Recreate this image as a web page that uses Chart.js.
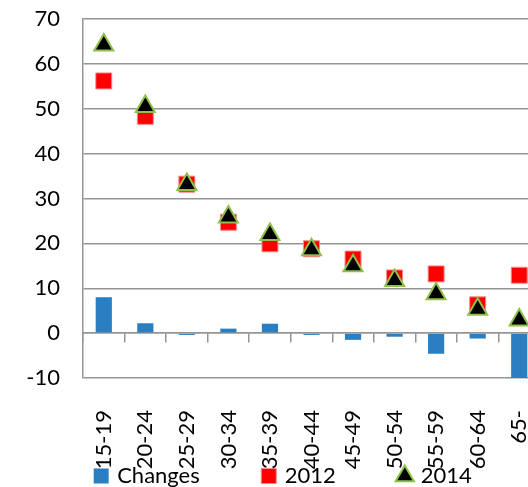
<!DOCTYPE html>
<html>
<head>
<meta charset="utf-8">
<title>Changes by age group</title>
<script src="https://cdn.jsdelivr.net/npm/chart.js@4.4.1/dist/chart.umd.min.js"></script>
<style>
    html, body { margin: 0; padding: 0; background: #fff; overflow: hidden; }
    #wrap { width: 582px; height: 487px; }
</style>
</head>
<body>
<div id="wrap"><canvas id="ageChart" width="582" height="487"></canvas></div>
<script>
// Dados
const ageGroups = ['15-19', '20-24', '25-29', '30-34', '35-39', '40-44', '45-49', '50-54', '55-59', '60-64', '65-'];
const changes  = [8.0, 2.2, -0.4, 1.0, 2.1, -0.4, -1.5, -0.8, -4.6, -1.2, -10];
const rate2012 = [56.2, 48.3, 33.2, 24.7, 19.9, 18.8, 16.5, 12.3, 13.2, 6.3, 12.9];
const rate2014 = [64.2, 50.5, 33.1, 25.9, 22.0, 18.6, 15.0, 11.7, 8.8, 5.3, 2.9];
const yMin = -10;
const yMax = 70;
const yStep = 10;

const gridColor = '#959595';

Chart.defaults.font.family = 'Lato, "Liberation Sans", sans-serif';
Chart.defaults.font.size = 22;
Chart.defaults.color = '#000';

// o eixo x fica baixo no layout (para a legenda caber), mas os rótulos precisam de espaço
const layoutTweaks = {
    id: 'layoutTweaks',
    afterLayout(chart) {
        const s = chart.scales.x;
        s.bottom = s.top + 110;
        // legenda um pouco mais à direita, como no original
        chart.legend.left += 14;
        chart.legend.right += 14;
    }
};

new Chart(document.getElementById('ageChart'), {
    data: {
        labels: ageGroups,
        datasets: [
            {
                type: 'bar',
                label: 'Changes',
                data: changes,
                backgroundColor: '#2a7fc2',
                borderWidth: 0,
                categoryPercentage: 0.39,
                barPercentage: 1,
                pointStyle: 'rect',
                order: 3
            },
            {
                type: 'line',
                label: '2012',
                data: rate2012,
                showLine: false,
                pointStyle: 'rect',
                pointRadius: 11.3,
                pointHoverRadius: 11.3,
                pointBackgroundColor: '#ff0000',
                pointBorderColor: '#ff8a8a',
                pointBorderWidth: 1,
                backgroundColor: '#ff0000',
                borderColor: '#ff8a8a',
                order: 2
            },
            {
                type: 'line',
                label: '2014',
                data: rate2014,
                showLine: false,
                pointStyle: 'triangle',
                pointRadius: 11,
                pointHoverRadius: 11,
                pointBackgroundColor: '#000',
                pointBorderColor: '#8fc04a',
                pointBorderWidth: 2,
                backgroundColor: '#000',
                borderColor: '#8fc04a',
                order: 1
            }
        ]
    },
    options: {
        responsive: false,
        animation: false,
        layout: { padding: { top: 19, right: 42, bottom: 0, left: 0 } },
        plugins: {
            tooltip: { enabled: false },
            legend: {
                position: 'bottom',
                maxHeight: 86,
                labels: {
                    usePointStyle: true,
                    boxWidth: 10,
                    boxHeight: 15,
                    padding: 64,
                    color: '#000',
                    font: { size: 22 },
                    sort: (a, b) => a.datasetIndex - b.datasetIndex
                }
            }
        },
        scales: {
            x: {
                grid: { display: false, drawTicks: false },
                border: { display: false },
                ticks: {
                    autoSkip: false,
                    minRotation: 90,
                    maxRotation: 90,
                    padding: 32
                },
                afterFit: (scale) => { scale.height = 23; }
            },
            // eixo auxiliar só para as marcas no zero
            xZero: {
                type: 'category',
                axis: 'x',
                position: { y: 0 },
                offset: true,
                ticks: { display: false },
                grid: {
                    offset: true,
                    drawOnChartArea: false,
                    drawTicks: true,
                    tickLength: 9,
                    color: gridColor,
                    lineWidth: 1.5
                },
                border: { display: true, color: gridColor, width: 1.5 },
                afterFit: (scale) => { scale.height = 0; }
            },
            y: {
                min: yMin,
                max: yMax,
                ticks: { stepSize: yStep, padding: 3 },
                grid: {
                    color: gridColor,
                    lineWidth: 1.5,
                    drawTicks: true,
                    tickLength: 20,
                    tickColor: 'rgba(0,0,0,0)'
                },
                border: { display: true, color: gridColor, width: 1.5 },
                afterFit: (scale) => { scale.width = 83; }
            }
        }
    },
    plugins: [layoutTweaks]
});
</script>
</body>
</html>
